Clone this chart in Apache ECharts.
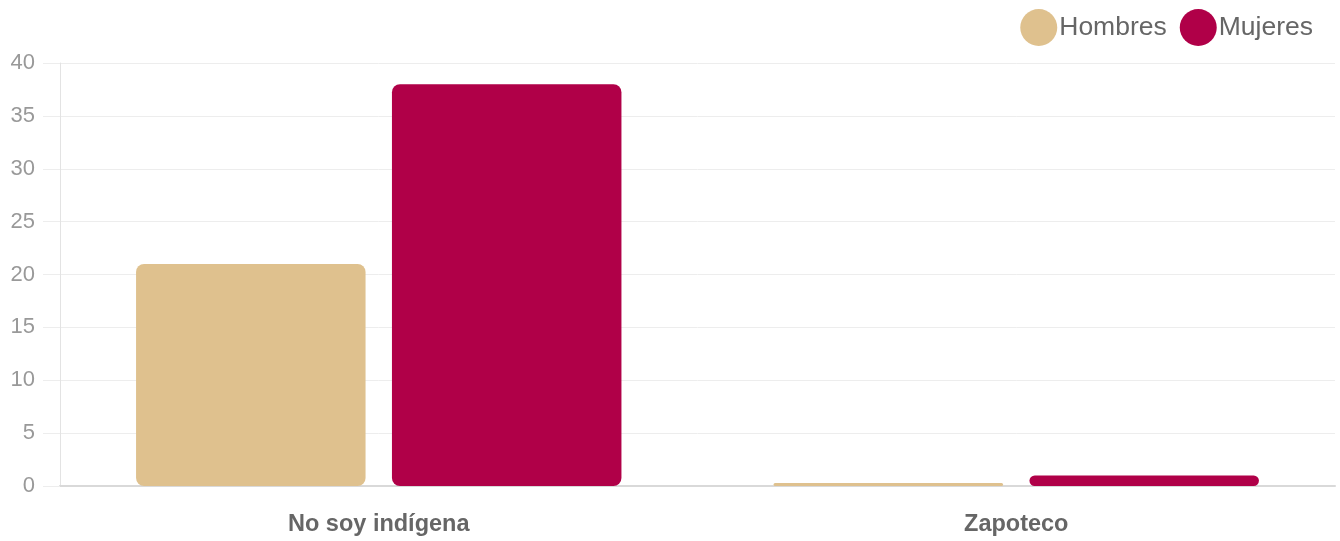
<!DOCTYPE html>
<html>
<head>
<meta charset="utf-8">
<script src="https://cdn.jsdelivr.net/npm/echarts@6/dist/echarts.min.js"></script>
<style>html,body{margin:0;padding:0;background:#fff}#c{width:1340px;height:541px}</style>
</head>
<body>
<div id="c"></div>
<script>
const categories = ['No soy indígena', 'Zapoteco'];
const hombres = [21, 0];
const mujeres = [38, 1];
const yTicks = { min: 0, max: 40, interval: 5 };

const chart = echarts.init(document.getElementById('c'), null, { renderer: 'canvas' });
const font = 'Helvetica, Arial, "Liberation Sans", sans-serif';
chart.setOption({
  animation: false,
  textStyle: { fontFamily: font },
  legend: {
    right: 22, top: 4,
    icon: 'circle', itemWidth: 37, itemHeight: 37, itemGap: 13,
    textStyle: { fontSize: 26.5, color: '#666', fontFamily: font, padding: [0, 0, 0, -3] },
    data: ['Hombres', 'Mujeres']
  },
  grid: { left: 60, right: 5, top: 63, bottom: 55, containLabel: false },
  xAxis: {
    type: 'category', data: categories,
    axisLine: { lineStyle: { color: '#d9d9d9', width: 2 } },
    axisTick: { show: false },
    axisLabel: { fontSize: 23.5, fontWeight: 'bold', color: '#666', margin: 27, fontFamily: font }
  },
  yAxis: {
    type: 'value', min: yTicks.min, max: yTicks.max, interval: yTicks.interval,
    axisLine: { show: true, lineStyle: { color: '#e3e3e3', width: 1 } },
    axisTick: { show: true, length: 17, lineStyle: { color: '#ededed' } },
    axisLabel: { fontSize: 22, color: '#999', margin: 25, fontFamily: font },
    splitLine: { lineStyle: { color: '#ededed', width: 1 } }
  },
  series: [
    {
      name: 'Hombres', type: 'bar', data: hombres,
      barWidth: '36%', barGap: '11.5%', barMinHeight: 3,
      itemStyle: { color: '#DFC18E', borderRadius: 8 }
    },
    {
      name: 'Mujeres', type: 'bar', data: mujeres,
      barWidth: '36%', barGap: '11.5%',
      itemStyle: { color: '#B00048', borderRadius: 8 }
    }
  ]
});
</script>
</body>
</html>
